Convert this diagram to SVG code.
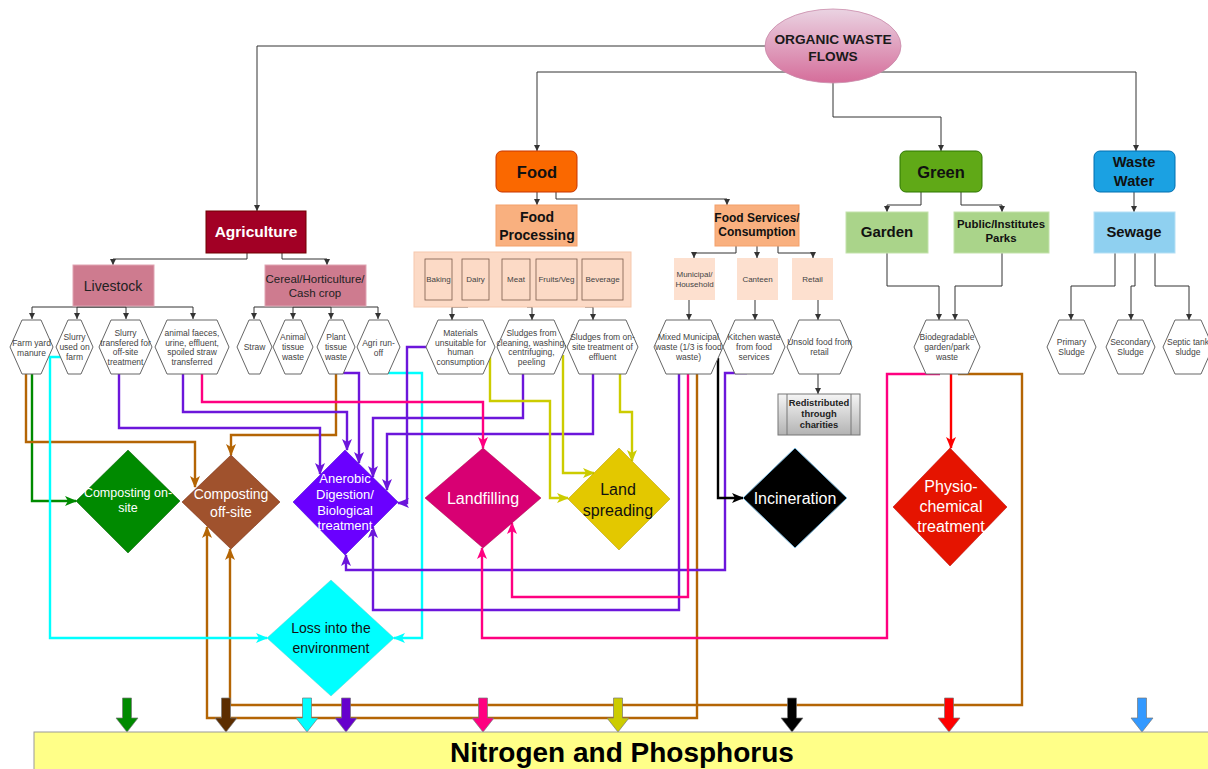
<svg xmlns="http://www.w3.org/2000/svg" width="1208" height="769" viewBox="0 0 1208 769">
  <defs>
    <style>
      text { font-family: "Liberation Sans", Arial, Helvetica, sans-serif; text-anchor: middle; }
      .tree { fill: none; stroke: #333; stroke-width: 1; marker-end: url(#a-gray); }
      .flow { fill: none; stroke-width: 2.4; stroke-linejoin: miter; }
      .hex { fill: #fff; stroke: #666; stroke-width: 1; }
      .hext { font-size: 8.5px; fill: #444; }
      .small { font-size: 8px; fill: #444; }
      .blk { stroke: #777; stroke-width: 0.7; }
      .g { stroke: #008a00; marker-end: url(#a-green); }
      .br { stroke: #b46504; marker-end: url(#a-brown); }
      .cy { stroke: #00ffff; marker-end: url(#a-cyan); }
      .pu { stroke: #6c16db; marker-end: url(#a-purple); }
      .pk { stroke: #ff0080; marker-end: url(#a-pink); }
      .ye { stroke: #cccc00; marker-end: url(#a-yellow); }
      .bk { stroke: #000; marker-end: url(#a-black); }
      .rd { stroke: #ff0000; marker-end: url(#a-red); }
    </style>
    <linearGradient id="ellipseFill" x1="0" y1="0" x2="0" y2="1">
      <stop offset="0" stop-color="#ead3e2"/>
      <stop offset="1" stop-color="#d56d9a"/>
    </linearGradient>
    <linearGradient id="grayFill" x1="0" y1="0" x2="0" y2="1">
      <stop offset="0" stop-color="#f5f5f5"/>
      <stop offset="1" stop-color="#b3b3b3"/>
    </linearGradient>
    <marker id="a-gray" markerUnits="userSpaceOnUse" markerWidth="6" markerHeight="6" viewBox="0 0 6 6" refX="6" refY="3" orient="auto"><path d="M0,0 L6,3 L0,6 Z" fill="#333"/></marker>
    <marker id="a-green" markerUnits="userSpaceOnUse" markerWidth="12" markerHeight="10" viewBox="0 0 12 10" refX="11" refY="5" orient="auto"><path d="M0,0 L12,5 L0,10 L3,5 Z" fill="#008a00"/></marker>
    <marker id="a-brown" markerUnits="userSpaceOnUse" markerWidth="12" markerHeight="10" viewBox="0 0 12 10" refX="11" refY="5" orient="auto"><path d="M0,0 L12,5 L0,10 L3,5 Z" fill="#b46504"/></marker>
    <marker id="a-cyan" markerUnits="userSpaceOnUse" markerWidth="12" markerHeight="10" viewBox="0 0 12 10" refX="11" refY="5" orient="auto"><path d="M0,0 L12,5 L0,10 L3,5 Z" fill="#00ffff"/></marker>
    <marker id="a-purple" markerUnits="userSpaceOnUse" markerWidth="12" markerHeight="10" viewBox="0 0 12 10" refX="11" refY="5" orient="auto"><path d="M0,0 L12,5 L0,10 L3,5 Z" fill="#6c16db"/></marker>
    <marker id="a-pink" markerUnits="userSpaceOnUse" markerWidth="12" markerHeight="10" viewBox="0 0 12 10" refX="11" refY="5" orient="auto"><path d="M0,0 L12,5 L0,10 L3,5 Z" fill="#ff0080"/></marker>
    <marker id="a-yellow" markerUnits="userSpaceOnUse" markerWidth="12" markerHeight="10" viewBox="0 0 12 10" refX="11" refY="5" orient="auto"><path d="M0,0 L12,5 L0,10 L3,5 Z" fill="#cccc00"/></marker>
    <marker id="a-black" markerUnits="userSpaceOnUse" markerWidth="12" markerHeight="10" viewBox="0 0 12 10" refX="11" refY="5" orient="auto"><path d="M0,0 L12,5 L0,10 L3,5 Z" fill="#000"/></marker>
    <marker id="a-red" markerUnits="userSpaceOnUse" markerWidth="12" markerHeight="10" viewBox="0 0 12 10" refX="11" refY="5" orient="auto"><path d="M0,0 L12,5 L0,10 L3,5 Z" fill="#ff0000"/></marker>
  </defs>

  <rect width="1208" height="769" fill="#fff"/>

  <!-- connectors -->
  <g id="connectors">
    <!-- hierarchy links -->
    <path class="tree" d="M766,46 H257 V211"/>
    <path class="tree" d="M786,72 H537 V151"/>
    <path class="tree" d="M880,72 H1136 V151"/>
    <path class="tree" d="M833,83 V117 H941 V151"/>
    <path class="tree" d="M247,253 V259 H113 V265"/>
    <path class="tree" d="M282,253 V259 H327 V265"/>
    <path class="tree" d="M113,307 H32 V319"/>
    <path class="tree" d="M113,307 H77 V319"/>
    <path class="tree" d="M113,307 H126 V319"/>
    <path class="tree" d="M113,307 H193 V319"/>
    <path class="tree" d="M316,307 H254 V319"/>
    <path class="tree" d="M316,307 H293 V319"/>
    <path class="tree" d="M316,307 H331 V319"/>
    <path class="tree" d="M316,307 H378 V319"/>
    <path class="tree" d="M537,192 V205"/>
    <path class="tree" d="M556,192 V199 H727 V205"/>
    <path class="tree" d="M736,246 V253 H694 V258"/>
    <path class="tree" d="M757,246 V258"/>
    <path class="tree" d="M778,246 V253 H813 V258"/>
    <path class="tree" d="M468,307 H452 V320"/>
    <path class="tree" d="M527,307 H532 V320"/>
    <path class="tree" d="M585,307 H593 V320"/>
    <path class="tree" d="M689,300 V320"/>
    <path class="tree" d="M755,300 V320"/>
    <path class="tree" d="M818,300 V320"/>
    <path class="tree" d="M818,374 V394"/>
    <path class="tree" d="M921,192 V205 H887 V212"/>
    <path class="tree" d="M961,192 V205 H1002 V212"/>
    <path class="tree" d="M887,253 V286 H939 V320"/>
    <path class="tree" d="M1002,253 V286 H955 V320"/>
    <path class="tree" d="M1134,192 V212"/>
    <path class="tree" d="M1115,253 V286 H1071 V320"/>
    <path class="tree" d="M1135,253 V286 H1131 V320"/>
    <path class="tree" d="M1155,253 V286 H1189 V320"/>

    <!-- waste flows to treatment routes -->
    <path class="flow g" d="M32,374 V501 H76"/>
    <path class="flow br" d="M26,374 V442 H195 V487"/>
    <path class="flow br" d="M336,374 V435 H231 V455"/>
    <path class="flow br" d="M697,374 V718 H207 V527"/>
    <path class="flow br" d="M958,374 H1022 V705 H230 V549"/>
    <path class="flow cy" d="M61,357 H50 V638 H267"/>
    <path class="flow cy" d="M388,373 H422 V638 H394"/>
    <path class="flow pu" d="M119,374 V428 H320 V474"/>
    <path class="flow pu" d="M183,374 V412 H347 V450"/>
    <path class="flow pu" d="M343,373 H359 V463"/>
    <path class="flow pu" d="M523,374 V418 H373 V477"/>
    <path class="flow pu" d="M593,374 V434 H387 V490"/>
    <path class="flow pu" d="M426,347 H407 V503 H398"/>
    <path class="flow pu" d="M747,373 H725 V570 H346 V555"/>
    <path class="flow pu" d="M679,374 V610 H373 V527"/>
    <path class="flow pk" d="M202,374 V402 H483 V448"/>
    <path class="flow pk" d="M940,374 H887 V638 H482 V548"/>
    <path class="flow pk" d="M688,374 V597 H512 V523"/>
    <path class="flow ye" d="M490,357 V401 H550 V498 H568"/>
    <path class="flow ye" d="M563,355 V473 H594"/>
    <path class="flow ye" d="M620,374 V412 H632 V461"/>
    <path class="flow bk" d="M718,358 V498 H743"/>
    <path class="flow rd" d="M951,374 V448"/>
  </g>

  <!-- sources -->
  <g id="organic-waste-flows">
    <ellipse cx="833" cy="46" rx="68" ry="37" fill="url(#ellipseFill)" stroke="#c98aa9" stroke-width="0.8"/>
    <text x="833" y="44" font-size="13.7" font-weight="bold" fill="#1a1a1a">ORGANIC WASTE</text>
    <text x="833" y="61" font-size="13.7" font-weight="bold" fill="#1a1a1a">FLOWS</text>
  </g>

  <g id="agriculture">
    <rect x="206" y="211" width="100" height="42" fill="#a20025" stroke="#6f0000"/>
    <text x="256" y="237" font-size="15.5" font-weight="bold" fill="#fff">Agriculture</text>
  </g>
  <g id="livestock">
    <rect x="73" y="265" width="81" height="41" fill="#ce7b8f" stroke="#e0a4b2"/>
    <text x="113" y="291" font-size="14" fill="#222">Livestock</text>
  </g>
  <g id="cereal">
    <rect x="265" y="265" width="101" height="41" fill="#ce7b8f" stroke="#e0a4b2"/>
    <text x="315" y="283" font-size="11.5" fill="#222">Cereal/Horticulture/</text>
    <text x="315" y="297" font-size="11.5" fill="#222">Cash crop</text>
  </g>

  <g id="food">
    <rect x="496" y="151" width="81" height="41" rx="6" fill="#fa6800" stroke="#c73500"/>
    <text x="537" y="178" font-size="16.5" font-weight="bold" fill="#111">Food</text>
  </g>
  <g id="food-processing">
    <rect x="496" y="205" width="81" height="41" fill="#f9b07f" stroke="#f3a06a"/>
    <text x="537" y="222" font-size="14" font-weight="bold" fill="#111">Food</text>
    <text x="537" y="240" font-size="14" font-weight="bold" fill="#111">Processing</text>
  </g>
  <g id="food-services">
    <rect x="715" y="205" width="84" height="41" fill="#f9b07f" stroke="#f3a06a"/>
    <text x="757" y="222" font-size="12" font-weight="bold" fill="#111">Food Services/</text>
    <text x="757" y="236" font-size="12" font-weight="bold" fill="#111">Consumption</text>
  </g>
  <g id="processing-sectors">
    <rect x="414" y="252" width="217" height="55" fill="#fcdac6" stroke="#f6c8ad"/>
    <g fill="#fcdac6" stroke="#7a5a4a" stroke-width="0.8">
      <rect x="425" y="259" width="27" height="41"/>
      <rect x="462" y="259" width="27" height="41"/>
      <rect x="502" y="259" width="28" height="41"/>
      <rect x="536" y="259" width="41" height="41"/>
      <rect x="582" y="259" width="41" height="41"/>
    </g>
    <text class="small" x="438.5" y="282">Baking</text>
    <text class="small" x="475.5" y="282">Dairy</text>
    <text class="small" x="516" y="282">Meat</text>
    <text class="small" x="556.5" y="282">Fruits/Veg</text>
    <text class="small" x="602.5" y="282">Beverage</text>
  </g>
  <g id="municipal-household">
    <rect x="674" y="258" width="41" height="42" fill="#fde0cf"/>
    <text class="small" x="694.5" y="277">Municipal/</text>
    <text class="small" x="694.5" y="287">Household</text>
  </g>
  <g id="canteen">
    <rect x="737" y="258" width="41" height="42" fill="#fde0cf"/>
    <text class="small" x="757.5" y="282">Canteen</text>
  </g>
  <g id="retail">
    <rect x="792" y="258" width="41" height="42" fill="#fde0cf"/>
    <text class="small" x="812.5" y="282">Retail</text>
  </g>

  <g id="green">
    <rect x="900" y="151" width="82" height="41" rx="6" fill="#60a917" stroke="#2d7600"/>
    <text x="941" y="178" font-size="16.5" font-weight="bold" fill="#111">Green</text>
  </g>
  <g id="garden">
    <rect x="846" y="212" width="82" height="41" fill="#aad48a" stroke="#c3e2ab"/>
    <text x="887" y="237" font-size="15" font-weight="bold" fill="#111">Garden</text>
  </g>
  <g id="public-parks">
    <rect x="954" y="212" width="95" height="41" fill="#aad48a" stroke="#c3e2ab"/>
    <text x="1001" y="228" font-size="11.4" font-weight="bold" fill="#111">Public/Institutes</text>
    <text x="1001" y="242" font-size="11.4" font-weight="bold" fill="#111">Parks</text>
  </g>
  <g id="waste-water">
    <rect x="1094" y="151" width="81" height="41" rx="6" fill="#1ba1e2" stroke="#006eaf"/>
    <text x="1134" y="167" font-size="14.7" font-weight="bold" fill="#111">Waste</text>
    <text x="1134" y="186" font-size="14.7" font-weight="bold" fill="#111">Water</text>
  </g>
  <g id="sewage">
    <rect x="1094" y="212" width="81" height="41" fill="#8fd0f0" stroke="#b5e0f5"/>
    <text x="1134" y="237" font-size="14.8" font-weight="bold" fill="#111">Sewage</text>
  </g>

  <!-- waste streams -->
  <g id="farm-yard-manure">
    <polygon class="hex" points="22,320 41,320 53,347 41,374 22,374 10,347"/>
    <text class="hext" x="31.5" y="346">Farm yard</text>
    <text class="hext" x="31.5" y="355.5">manure</text>
  </g>
  <g id="slurry-on-farm">
    <polygon class="hex" points="68,320 81,320 93,347 81,374 68,374 56,347"/>
    <text class="hext" x="74.5" y="340">Slurry</text>
    <text class="hext" x="74.5" y="350">used on</text>
    <text class="hext" x="74.5" y="360">farm</text>
  </g>
  <g id="slurry-off-site">
    <polygon class="hex" points="111,320 140,320 152,347 140,374 111,374 99,347"/>
    <text class="hext" x="125.5" y="336">Slurry</text>
    <text class="hext" x="125.5" y="345.5">transfered for</text>
    <text class="hext" x="125.5" y="355">off-site</text>
    <text class="hext" x="125.5" y="364.5">treatment</text>
  </g>
  <g id="animal-faeces">
    <polygon class="hex" points="167,320 217,320 229,347 217,374 167,374 155,347"/>
    <text class="hext" x="192" y="336">animal faeces,</text>
    <text class="hext" x="192" y="345.5">urine, effluent,</text>
    <text class="hext" x="192" y="355">spoiled straw</text>
    <text class="hext" x="192" y="364.5">transferred</text>
  </g>
  <g id="straw">
    <polygon class="hex" points="249,320 260,320 272,347 260,374 249,374 237,347"/>
    <text class="hext" x="254.5" y="350">Straw</text>
  </g>
  <g id="animal-tissue">
    <polygon class="hex" points="285,320 301,320 313,347 301,374 285,374 273,347"/>
    <text class="hext" x="293" y="340">Animal</text>
    <text class="hext" x="293" y="350">tissue</text>
    <text class="hext" x="293" y="360">waste</text>
  </g>
  <g id="plant-tissue">
    <polygon class="hex" points="329,320 343,320 355,347 343,374 329,374 317,347"/>
    <text class="hext" x="336" y="340">Plant</text>
    <text class="hext" x="336" y="350">tissue</text>
    <text class="hext" x="336" y="360">waste</text>
  </g>
  <g id="agri-runoff">
    <polygon class="hex" points="369,320 388,320 400,347 388,374 369,374 357,347"/>
    <text class="hext" x="378.5" y="346">Agri run-</text>
    <text class="hext" x="378.5" y="355.5">off</text>
  </g>
  <g id="materials-unsuitable">
    <polygon class="hex" points="438,320 483,320 495,347 483,374 438,374 426,347"/>
    <text class="hext" x="460.5" y="336">Materials</text>
    <text class="hext" x="460.5" y="345.5">unsuitable for</text>
    <text class="hext" x="460.5" y="355">human</text>
    <text class="hext" x="460.5" y="364.5">consumption</text>
  </g>
  <g id="sludges-cleaning">
    <polygon class="hex" points="509,320 554,320 566,347 554,374 509,374 497,347"/>
    <text class="hext" x="531.5" y="336">Sludges from</text>
    <text class="hext" x="531.5" y="345.5">cleaning, washing,</text>
    <text class="hext" x="531.5" y="355">centrifuging,</text>
    <text class="hext" x="531.5" y="364.5">peeling</text>
  </g>
  <g id="sludges-effluent">
    <polygon class="hex" points="579,320 626,320 638,347 626,374 579,374 567,347"/>
    <text class="hext" x="602.5" y="340">Sludges from on-</text>
    <text class="hext" x="602.5" y="350">site treatment of</text>
    <text class="hext" x="602.5" y="360">effluent</text>
  </g>
  <g id="mixed-municipal">
    <polygon class="hex" points="666,320 711,320 723,347 711,374 666,374 654,347"/>
    <text class="hext" x="688.5" y="340">Mixed Municipal</text>
    <text class="hext" x="688.5" y="350">waste (1/3 is food</text>
    <text class="hext" x="688.5" y="360">waste)</text>
  </g>
  <g id="kitchen-waste">
    <polygon class="hex" points="735,320 773,320 785,347 773,374 735,374 723,347"/>
    <text class="hext" x="754" y="340">Kitchen waste</text>
    <text class="hext" x="754" y="350">from food</text>
    <text class="hext" x="754" y="360">services</text>
  </g>
  <g id="unsold-food">
    <polygon class="hex" points="799,320 840,320 852,347 840,374 799,374 787,347"/>
    <text class="hext" x="819.5" y="345">Unsold food from</text>
    <text class="hext" x="819.5" y="355">retail</text>
  </g>
  <g id="charities">
    <rect x="778" y="394" width="82" height="41" fill="url(#grayFill)" stroke="#777"/>
    <line x1="787" y1="394" x2="787" y2="435" stroke="#777"/>
    <line x1="851" y1="394" x2="851" y2="435" stroke="#777"/>
    <text x="819" y="406" font-size="9.4" font-weight="bold" fill="#222">Redistributed</text>
    <text x="819" y="417" font-size="9.4" font-weight="bold" fill="#222">through</text>
    <text x="819" y="428" font-size="9.4" font-weight="bold" fill="#222">charities</text>
  </g>
  <g id="biodegradable">
    <polygon class="hex" points="926,320 968,320 980,347 968,374 926,374 914,347"/>
    <text class="hext" x="947" y="340">Biodegradable</text>
    <text class="hext" x="947" y="350">garden/park</text>
    <text class="hext" x="947" y="360">waste</text>
  </g>
  <g id="primary-sludge">
    <polygon class="hex" points="1059,320 1084,320 1096,347 1084,374 1059,374 1047,347"/>
    <text class="hext" x="1071.5" y="345">Primary</text>
    <text class="hext" x="1071.5" y="355">Sludge</text>
  </g>
  <g id="secondary-sludge">
    <polygon class="hex" points="1118,320 1143,320 1155,347 1143,374 1118,374 1106,347"/>
    <text class="hext" x="1130.5" y="345">Secondary</text>
    <text class="hext" x="1130.5" y="355">Sludge</text>
  </g>
  <g id="septic-sludge">
    <polygon class="hex" points="1175,320 1201,320 1213,347 1201,374 1175,374 1163,347"/>
    <text class="hext" x="1188" y="345">Septic tank</text>
    <text class="hext" x="1188" y="355">sludge</text>
  </g>

  <!-- treatment routes -->
  <g id="composting-on-site">
    <polygon points="128,450 180,501 128,553 76,501" fill="#008a00" stroke="#005700" stroke-width="0.5"/>
    <text x="128" y="497" font-size="12.5" fill="#fff">Composting on-</text>
    <text x="128" y="512" font-size="12.5" fill="#fff">site</text>
  </g>
  <g id="composting-off-site">
    <polygon points="231,455 280,502 231,549 182,502" fill="#a0522d" stroke="#6d1f00" stroke-width="0.5"/>
    <text x="231" y="499" font-size="14" fill="#fff">Composting</text>
    <text x="231" y="517" font-size="14" fill="#fff">off-site</text>
  </g>
  <g id="anaerobic-digestion">
    <polygon points="345,450 398,502 345,555 293,502" fill="#6a00ff" stroke="#3700cc" stroke-width="0.5"/>
    <text x="345" y="483" font-size="13" fill="#fff">Anerobic</text>
    <text x="345" y="499" font-size="13" fill="#fff">Digestion/</text>
    <text x="345" y="515" font-size="13" fill="#fff">Biological</text>
    <text x="345" y="530" font-size="13" fill="#fff">treatment</text>
  </g>
  <g id="landfilling">
    <polygon points="483,448 541,498 483,548 425,498" fill="#d80073" stroke="#a50040" stroke-width="0.5"/>
    <text x="483" y="504" font-size="16" fill="#fff">Landfilling</text>
  </g>
  <g id="land-spreading">
    <polygon points="619,448 670,499 619,550 568,499" fill="#e3c800" stroke="#b09500" stroke-width="0.5"/>
    <text x="618" y="495" font-size="16" fill="#111">Land</text>
    <text x="618" y="516" font-size="16" fill="#111">spreading</text>
  </g>
  <g id="incineration">
    <polygon points="795,448 847,498 795,548 743,498" fill="#000" stroke="#7ab8dc" stroke-width="1"/>
    <text x="795" y="504" font-size="16" fill="#fff">Incineration</text>
  </g>
  <g id="physio-chemical">
    <polygon points="950,448 1007,507 950,566 893,507" fill="#e51400" stroke="#b20000" stroke-width="0.5"/>
    <text x="951" y="492" font-size="16" fill="#fff">Physio-</text>
    <text x="951" y="512" font-size="16" fill="#fff">chemical</text>
    <text x="951" y="532" font-size="16" fill="#fff">treatment</text>
  </g>
  <g id="loss-environment">
    <polygon points="331,580 394,638 331,696 267,638" fill="#00ffff" stroke="#66cccc" stroke-width="0.5"/>
    <text x="331" y="633" font-size="14" fill="#111">Loss into the</text>
    <text x="331" y="653" font-size="14" fill="#111">environment</text>
  </g>

  <!-- arrows into the nutrient pool -->
  <g id="nutrient-arrows" class="blk">
    <polygon points="122.5,698 131.5,698 131.5,718 138,718 127,732 116,718 122.5,718" fill="#008a00"/>
    <polygon points="221.5,698 230.5,698 230.5,718 237,718 226,732 215,718 221.5,718" fill="#5c2d00"/>
    <polygon points="302.5,698 311.5,698 311.5,718 318,718 307,732 296,718 302.5,718" fill="#00ffff"/>
    <polygon points="341.5,698 350.5,698 350.5,718 357,718 346,732 335,718 341.5,718" fill="#6600cc"/>
    <polygon points="478.5,698 487.5,698 487.5,718 494,718 483,732 472,718 478.5,718" fill="#ff0080"/>
    <polygon points="613.5,698 622.5,698 622.5,718 629,718 618,732 607,718 613.5,718" fill="#cccc00"/>
    <polygon points="787.5,698 796.5,698 796.5,718 803,718 792,732 781,718 787.5,718" fill="#000"/>
    <polygon points="944.5,698 953.5,698 953.5,718 960,718 949,732 938,718 944.5,718" fill="#ff0000"/>
    <polygon points="1137.5,698 1146.5,698 1146.5,718 1153,718 1142,732 1131,718 1137.5,718" fill="#3399ff"/>
  </g>

  <g id="nitrogen-phosphorus">
    <rect x="34" y="732" width="1190" height="44" fill="#ffff88" stroke="#999"/>
    <text x="622" y="762" font-size="28" font-weight="bold" fill="#000">Nitrogen and Phosphorus</text>
  </g>
</svg>
